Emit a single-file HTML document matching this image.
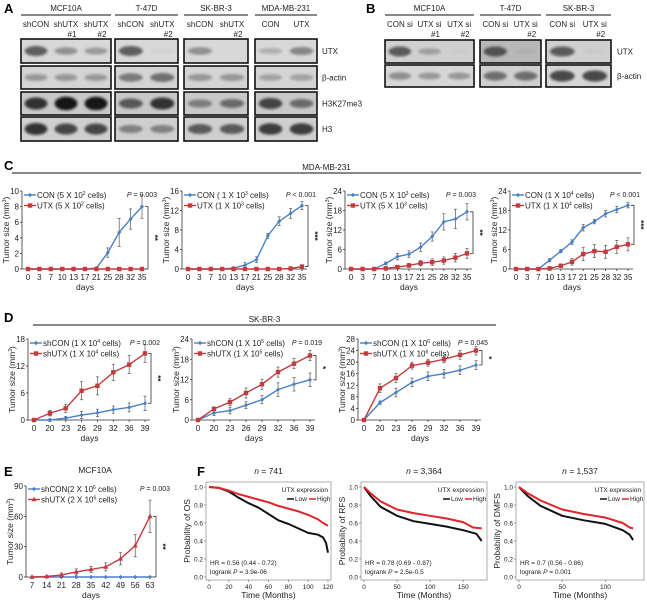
<!DOCTYPE html>
<html><head><meta charset="utf-8"><style>
body{margin:0;background:#fff;}
svg{display:block;font-family:"Liberation Sans",sans-serif;}
</style></head><body>
<svg id="fig" width="647" height="601" viewBox="0 0 647 601" xmlns="http://www.w3.org/2000/svg">
<defs><filter id="blur" x="-20%" y="-50%" width="140%" height="200%"><feGaussianBlur stdDeviation="1.4"/></filter></defs>
<g id="root"></g>
</svg>
<script>
// ---------- data ----------
const daysC = ['0','3','7','10','13','17','21','25','28','32','35'];
const c1Con = [0,0,0,0,0,0,0.1,2.1,4.7,6.4,8.0];
const c1ConErr = [0,0,0,0,0,0,0.1,0.6,1.8,1.3,1.5];
const c1Utx = [0,0,0,0,0,0,0,0,0,0,0];
const c1UtxErr = [0,0,0,0,0,0,0,0,0,0,0];
const c2Con = [0,0,0,0,0.2,0.8,1.9,6.8,9.8,11.4,13.0];
const c2ConErr = [0,0,0,0,0.1,0.5,0.6,0.5,0.9,1.0,0.8];
const c2Utx = [0,0,0,0,0,0,0,0,0,0.1,0.5];
const c2UtxErr = [0,0,0,0,0,0,0,0,0,0.1,0.3];
const c3Con = [0,0,0,1.7,3.8,4.6,6.7,10.0,14.5,15.4,17.6];
const c3ConErr = [0,0,0,0.4,1.0,1.0,1.3,1.4,2.5,3.0,2.5];
const c3Utx = [0,0,0,0.2,0.6,1.1,1.8,2.1,2.6,3.5,4.8];
const c3UtxErr = [0,0,0,0.2,0.4,0.6,0.8,1.0,1.1,1.3,1.5];
const c4Con = [0,0,0,2.7,5.5,8.3,12.7,14.6,17.0,18.3,19.6];
const c4ConErr = [0,0,0,0.5,0.5,0.7,1.0,0.7,1.0,1.0,0.8];
const c4Utx = [0,0,0,0.2,1.0,2.2,4.6,5.5,5.3,6.8,7.6];
const c4UtxErr = [0,0,0,0.2,0.4,1.0,2.0,2.0,2.0,2.0,2.0];
const daysD = ['0','20','23','26','29','32','36','39'];
const d1Con = [0,0,0.4,1.1,1.6,2.3,2.8,3.7];
const d1ConErr = [0,0.3,0.4,0.8,0.8,0.8,1.0,1.6];
const d1Utx = [0,1.5,2.6,6.5,7.6,10.6,12.3,14.8];
const d1UtxErr = [0,0.6,0.9,2.0,2.0,1.8,2.0,2.0];
const d2Con = [0,2.1,2.8,4.4,6.0,9.0,10.6,11.9];
const d2ConErr = [0,0.8,1.0,1.0,1.2,2.0,2.0,2.0];
const d2Utx = [0,3.3,5.3,8.0,10.6,14.2,16.7,19.1];
const d2UtxErr = [0,0.6,1.0,1.5,1.5,1.5,1.5,1.5];
const d3Con = [0,6.0,9.5,13.0,15.1,16.0,17.2,19.0];
const d3ConErr = [0,0.6,1.5,1.5,1.5,1.5,1.5,1.5];
const d3Utx = [0,11.0,14.5,18.8,19.8,21.0,22.5,24.0];
const d3UtxErr = [0,1.5,1.5,1.2,1.2,1.2,1.5,1.5];
const daysE = ['7','14','21','28','35','42','49','56','63'];
const eCon = [0,0,0,0,0,0,0,0,0];
const eConErr = [0,0,0,0,0,0,0,0,0];
const eUtx = [0,0.5,2,5,7.5,10,18,31,60];
const eUtxErr = [0.3,1,2,3,3,4,6,11,16];
const yTicksC1 = [0,2,4,6,8,10];
const yTicksC2 = [0,4,8,12,16];
const yTicksC3 = [0,6,12,18,24];
const yTicksD1 = [0,6,12,18];
const yTicksD2 = [0,6,12,18,24];
const yTicksD3 = [0,4,8,12,16,20,24,28];
const yTicksE = [0,30,60,90];
// KM data
const f1LowT = [0,10,20,30,40,50,60,70,80,90,100,110,115,118,120];
const f1LowS = [1,.99,.95,.88,.82,.77,.70,.63,.59,.54,.49,.47,.44,.38,.27];
const f1HighT = [0,10,20,30,40,50,60,70,80,90,100,110,115,120];
const f1HighS = [1,.99,.96,.92,.89,.86,.83,.79,.76,.73,.69,.64,.60,.57];
const f2LowT = [0,10,25,50,75,100,125,150,170,178];
const f2LowS = [1,.9,.78,.68,.62,.59,.56,.52,.48,.40];
const f2HighT = [0,10,25,50,75,100,125,150,165,178];
const f2HighS = [1,.93,.84,.75,.71,.68,.65,.61,.55,.54];
const f3LowT = [0,10,25,50,75,100,120,128,132];
const f3LowS = [1,.9,.79,.68,.63,.59,.52,.47,.41];
const f3HighT = [0,10,25,50,75,100,120,128,132];
const f3HighS = [1,.93,.85,.75,.70,.66,.60,.55,.54];
const probTicks = ['0.0','0.2','0.4','0.6','0.8','1.0'];

// ---------- helpers ----------
const NS='http://www.w3.org/2000/svg';
const root=document.getElementById('root');
function mk(tag,attrs,parent){const e=document.createElementNS(NS,tag);for(const k in attrs)e.setAttribute(k,attrs[k]);(parent||root).appendChild(e);return e;}
function txt(x,y,s,size,anchor,parent,extra){const e=mk('text',Object.assign({x:x,y:y,'font-size':size,'text-anchor':anchor||'start',fill:'#222'},extra||{}),parent);e.innerHTML=s;return e;}
const BLUE='#4a80c4', RED='#c33b3e';

// ---------- panel labels ----------
[['A',4,13],['B',366,13],['C',4,170],['D',4,322],['E',4,476],['F',197,476]].forEach(p=>{
  const t=txt(p[1],p[2],p[0],13,'start',root,{'font-weight':'bold',fill:'#000'});
  
  
});

// ---------- blots ----------
function blotGroup(x0,x1,label,cols,rows,lanes){
  const g=mk('g',{});
  
  
  txt((x0+x1)/2,11,label,8,'middle',g);
  mk('line',{x1:x0,x2:x1,y1:15,y2:15,stroke:'#111','stroke-width':1},g);
  const n=cols.length, w=(x1-x0)/n;
  cols.forEach((c,i)=>{const cx=x0+w*(i+0.5);txt(cx,27,c[0],8,'middle',g);if(c[1])txt(cx+6,37,c[1],8,'middle',g);});
  rows.forEach((r,ri)=>{
    mk('rect',{x:x0,y:r[0],width:x1-x0,height:r[1]-r[0],fill:r[2],stroke:'#111','stroke-width':1.6},g);
    const cy=(r[0]+r[1])/2;
    lanes[ri].forEach((v,i)=>{ if(v<=0)return;
      const cx=x0+w*(i+0.5);
      mk('ellipse',{cx:cx,cy:cy,rx:w*0.38,ry:2+v*5,fill:'#111',opacity:Math.min(0.95,v),filter:'url(#blur)'},g);
    });
  });
}
const rowsA=[[39,63,'#d8d8d8'],[66,89,'#d4d4d4'],[92,115,'#c8c8c8'],[117,141,'#cfcfcf']];
blotGroup(21,111,'MCF10A',[['shCON'],['shUTX','#1'],['shUTX','#2']],rowsA,[[0.6,0.35,0.3],[0.3,0.3,0.3],[0.8,0.95,0.95],[0.8,0.7,0.7]]);
blotGroup(115,178,'T-47D',[['shCON'],['shUTX','#2']],rowsA,[[0.6,0.03],[0.45,0.5],[0.6,0.8],[0.4,0.4]]);
blotGroup(184,248,'SK-BR-3',[['shCON'],['shUTX','#2']],rowsA,[[0.35,0],[0.3,0.3],[0.4,0.5],[0.6,0.6]]);
blotGroup(255,317,'MDA-MB-231',[['CON'],['UTX']],rowsA,[[0.2,0.4],[0.25,0.25],[0.7,0.5],[0.75,0.75]]);
['UTX','β-actin','H3K27me3','H3'].forEach((l,i)=>{const t=txt(322,(rowsA[i][0]+rowsA[i][1])/2+3,l,8);});
const rowsB=[[40,63,'#d0d0d0'],[65,87,'#d6d6d6']];
blotGroup(385,474,'MCF10A',[['CON si'],['UTX si','#1'],['UTX si','#2']],rowsB,[[0.6,0.25,0.03],[0.35,0.3,0.3]]);
blotGroup(480,541,'T-47D',[['CON si'],['UTX si','#2']],[[40,63,'#b8b8b8'],[65,87,'#cfcfcf']],[[0.6,0.05],[0.5,0.5]]);
blotGroup(546,611,'SK-BR-3',[['CON si'],['UTX si','#2']],rowsB,[[0.6,0.03],[0.7,0.7]]);
['UTX','β-actin'].forEach((l,i)=>{const t=txt(617,(rowsB[i][0]+rowsB[i][1])/2+3,l,8);});

// ---------- section titles ----------
function section(x0,x1,y,label,name){const g=mk('g',{});
  txt((x0+x1)/2,y-3,label,8,'middle',g);mk('line',{x1:x0,x2:x1,y1:y,y2:y,stroke:'#111','stroke-width':1},g);}
section(12,641,173,'MDA-MB-231','section-title-c');
section(33,496,325,'SK-BR-3','section-title-d');
txt(95,473,'MCF10A',8.5,'middle');

// ---------- line chart ----------
function marker(g,shape,x,y,color){
  if(shape==='sq')mk('rect',{x:x-2.2,y:y-2.2,width:4.4,height:4.4,fill:color},g);
  else if(shape==='tri')mk('path',{d:`M${x},${y-2.8}L${x+2.6},${y+1.8}L${x-2.6},${y+1.8}Z`,fill:color},g);
  else mk('path',{d:`M${x},${y-2.3}L${x+2},${y}L${x},${y+2.3}L${x-2},${y}Z`,fill:color},g);
}
function lineChart(o){
  const g=mk('g',{});
  
  
  const n=o.cats.length, ymax=o.yTicks[o.yTicks.length-1];
  const X=i=>o.x0+(o.x1-o.x0)*i/(n-1);
  const Y=v=>o.yb-(o.yb-o.yt)*v/ymax;
  const ax=o.x0-6;
  mk('line',{x1:ax,x2:ax,y1:o.yt,y2:o.yb,stroke:'#333','stroke-width':0.8},g);
  mk('line',{x1:ax,x2:o.x1+5,y1:o.yb,y2:o.yb,stroke:'#333','stroke-width':0.8},g);
  o.yTicks.forEach(t=>{mk('line',{x1:ax-2,x2:ax,y1:Y(t),y2:Y(t),stroke:'#333','stroke-width':0.8},g);txt(ax-3,Y(t)+3,t,8,'end',g);});
  o.cats.forEach((c,i)=>{mk('line',{x1:X(i),x2:X(i),y1:o.yb,y2:o.yb+2,stroke:'#333','stroke-width':0.8},g);txt(X(i),o.yb+11,c,8,'middle',g);});
  txt((o.x0+o.x1)/2,o.yb+21,'days',8.5,'middle',g);
  const yt=txt(0,0,'Tumor size (mm<tspan font-size="5" dy="-3">3</tspan><tspan dy="3">)</tspan>',8.5,'middle',g);
  yt.setAttribute('transform',`translate(${ax-13},${(o.yt+o.yb)/2}) rotate(-90)`);
  o.series.forEach((s,si)=>{
    const sg=mk('g',{},g);
    
    
    s.v.forEach((v,i)=>{if(s.e[i]>0){const x=X(i);mk('line',{x1:x,x2:x,y1:Y(v-s.e[i]),y2:Y(v+s.e[i]),stroke:'#555','stroke-width':0.7},sg);
      mk('line',{x1:x-1.5,x2:x+1.5,y1:Y(v+s.e[i]),y2:Y(v+s.e[i]),stroke:'#555','stroke-width':0.7},sg);
      mk('line',{x1:x-1.5,x2:x+1.5,y1:Y(v-s.e[i]),y2:Y(v-s.e[i]),stroke:'#555','stroke-width':0.7},sg);}});
    mk('polyline',{points:s.v.map((v,i)=>X(i)+','+Y(v)).join(' '),fill:'none',stroke:s.c,'stroke-width':1.4},sg);
    s.v.forEach((v,i)=>marker(sg,s.m,X(i),Y(v),s.c));
    const ly=o.legY+si*10.5;
    mk('line',{x1:ax+2,x2:ax+14,y1:ly,y2:ly,stroke:s.c,'stroke-width':1.4},sg);
    marker(sg,s.m,ax+8,ly,s.c);
    txt(ax+15,ly+3,s.l,8,'start',sg);
  });
  txt(o.pX,o.legY+2,'<tspan font-style="italic">P</tspan> '+o.p,7,'end',g);
  const top=Y(Math.max(...o.series.map(s=>s.v[n-1]))), bot=Y(Math.min(...o.series.map(s=>s.v[n-1])));
  const bx=o.x1+6;
  mk('path',{d:`M${bx-3},${top}H${bx}V${bot}H${bx-3}`,fill:'none',stroke:'#333','stroke-width':0.8},g);
  const st=txt(0,0,o.star,8,'middle',g,{'font-weight':'bold'});
  st.setAttribute('transform',`translate(${bx+4},${(top+bot)/2}) rotate(90)`);
}
const sup=s=>'<tspan font-size="5" dy="-3">'+s+'</tspan><tspan dy="3"> cells)</tspan>';
lineChart({name:'chart-c1',x0:28,x1:142,yt:191,yb:269,yTicks:yTicksC1,cats:daysC,legY:195,pX:157,p:'= 0.003',star:'**',
  series:[{v:c1Con,e:c1ConErr,c:BLUE,m:'d',l:'CON (5 X 10'+sup('2')},{v:c1Utx,e:c1UtxErr,c:RED,m:'sq',l:'UTX (5 X 10'+sup('2')}]});
lineChart({name:'chart-c2',x0:188,x1:302,yt:191,yb:269,yTicks:yTicksC2,cats:daysC,legY:195,pX:316,p:'< 0.001',star:'***',
  series:[{v:c2Con,e:c2ConErr,c:BLUE,m:'d',l:'CON ( 1 X 10'+sup('3')},{v:c2Utx,e:c2UtxErr,c:RED,m:'sq',l:'UTX (1 X 10'+sup('3')}]});
lineChart({name:'chart-c3',x0:351,x1:467,yt:191,yb:269,yTicks:yTicksC3,cats:daysC,legY:195,pX:476,p:'= 0.003',star:'**',
  series:[{v:c3Con,e:c3ConErr,c:BLUE,m:'d',l:'CON (5 X 10'+sup('3')},{v:c3Utx,e:c3UtxErr,c:RED,m:'sq',l:'UTX (5 X 10'+sup('3')}]});
lineChart({name:'chart-c4',x0:516,x1:628,yt:191,yb:269,yTicks:yTicksC3,cats:daysC,legY:195,pX:640,p:'< 0.001',star:'***',
  series:[{v:c4Con,e:c4ConErr,c:BLUE,m:'d',l:'CON (1 X 10'+sup('4')},{v:c4Utx,e:c4UtxErr,c:RED,m:'sq',l:'UTX (1 X 10'+sup('4')}]});
lineChart({name:'chart-d1',x0:34,x1:145,yt:339,yb:420,yTicks:yTicksD1,cats:daysD,legY:343,pX:160,p:'= 0.002',star:'**',
  series:[{v:d1Con,e:d1ConErr,c:BLUE,m:'d',l:'shCON (1 X 10'+sup('4')},{v:d1Utx,e:d1UtxErr,c:RED,m:'sq',l:'shUTX (1 X 10'+sup('4')}]});
lineChart({name:'chart-d2',x0:198,x1:310,yt:339,yb:420,yTicks:yTicksD2,cats:daysD,legY:343,pX:322,p:'= 0.019',star:'*',
  series:[{v:d2Con,e:d2ConErr,c:BLUE,m:'d',l:'shCON (1 X 10'+sup('5')},{v:d2Utx,e:d2UtxErr,c:RED,m:'sq',l:'shUTX (1 X 10'+sup('5')}]});
lineChart({name:'chart-d3',x0:364,x1:476,yt:339,yb:420,yTicks:yTicksD3,cats:daysD,legY:343,pX:488,p:'= 0.045',star:'*',
  series:[{v:d3Con,e:d3ConErr,c:BLUE,m:'d',l:'shCON (1 X 10'+sup('6')},{v:d3Utx,e:d3UtxErr,c:RED,m:'sq',l:'shUTX (1 X 10'+sup('6')}]});
lineChart({name:'chart-e',x0:32,x1:150,yt:486,yb:577,yTicks:yTicksE,cats:daysE,legY:489,pX:170,p:'= 0.003',star:'**',
  series:[{v:eCon,e:eConErr,c:BLUE,m:'d',l:'shCON(2 X 10'+sup('6')},{v:eUtx,e:eUtxErr,c:RED,m:'tri',l:'shUTX (2 X 10'+sup('6')}]});

// ---------- KM plots ----------
function km(o){
  const g=mk('g',{});
  
  
  const X=t=>o.x0+(t/o.xmax)*(o.x1-o.x0), Y=s=>o.yb-(o.yb-o.yt)*s;
  mk('rect',{x:o.bx0,y:482,width:o.bx1-o.bx0,height:98,fill:'none',stroke:'#999','stroke-width':0.8},g);
  probTicks.forEach((t,i)=>{mk('line',{x1:o.bx0-2,x2:o.bx0,y1:Y(i/5),y2:Y(i/5),stroke:'#666','stroke-width':0.6},g);txt(o.bx0-3,Y(i/5)+2.5,t,6.5,'end',g);});
  o.xt.forEach(t=>{mk('line',{x1:X(t),x2:X(t),y1:580,y2:582,stroke:'#666','stroke-width':0.6},g);txt(X(t),589,t,6.5,'middle',g);});
  txt((o.bx0+o.bx1)/2,598,'Time (Months)',8.5,'middle',g);
  txt((o.bx0+o.bx1)/2,474,'<tspan font-style="italic">n</tspan> = '+o.n,8.5,'middle',g);
  const yl=txt(0,0,o.ylab,8.5,'middle',g);
  yl.setAttribute('transform',`translate(${o.bx0-16},531) rotate(-90)`);
  [[o.lowT,o.lowS,'#111'],[o.highT,o.highS,'#e0252a']].forEach((s,si)=>{
    const pts=s[0].map((t,i)=>X(t)+','+Y(s[1][i])).join(' ');
    const p=mk('polyline',{points:pts,fill:'none',stroke:s[2],'stroke-width':2,'stroke-linejoin':'round'},g);
    
    
  });
  txt(o.bx1-3,492,'UTX expression',6.5,'end',g);
  mk('line',{x1:o.bx1-44,x2:o.bx1-37,y1:499,y2:499,stroke:'#111','stroke-width':1.5},g);
  txt(o.bx1-36,501,'Low',6.5,'start',g);
  mk('line',{x1:o.bx1-22,x2:o.bx1-15,y1:499,y2:499,stroke:'#e0252a','stroke-width':1.5},g);
  txt(o.bx1-14,501,'High',6.5,'start',g);
  txt(o.bx0+4,565,o.hr,6.5,'start',g);
  txt(o.bx0+4,574,'logrank <tspan font-style="italic">P</tspan> = '+o.p,6.5,'start',g);
}
km({name:'km-os',bx0:206,bx1:331,x0:209,x1:328,xmax:120,yt:487,yb:577,xt:[0,20,40,60,80,100,120],n:'741',ylab:'Probability of OS',
  lowT:f1LowT,lowS:f1LowS,highT:f1HighT,highS:f1HighS,hr:'HR = 0.56 (0.44 - 0.72)',p:'3.9e-06'});
km({name:'km-rfs',bx0:361,bx1:487,x0:364,x1:483,xmax:180,yt:487,yb:577,xt:[0,50,100,150],n:'3,364',ylab:'Probability of RFS',
  lowT:f2LowT,lowS:f2LowS,highT:f2HighT,highS:f2HighS,hr:'HR = 0.78 (0.69 - 0.87)',p:'2.5e-0.5'});
km({name:'km-dmfs',bx0:516,bx1:644,x0:519,x1:640,xmax:140,yt:487,yb:577,xt:[0,50,100],n:'1,537',ylab:'Probability of DMFS',
  lowT:f3LowT,lowS:f3LowS,highT:f3HighT,highS:f3HighS,hr:'HR = 0.7 (0.56 - 0.86)',p:'0.001'});
</script>
</body></html>
